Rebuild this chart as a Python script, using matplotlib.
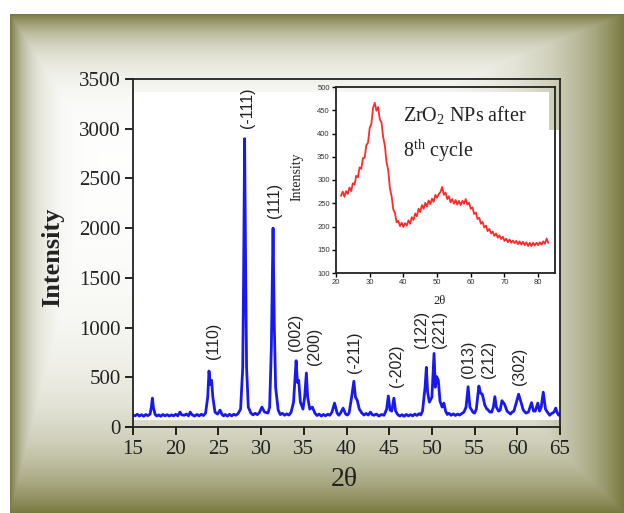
import numpy as np
import matplotlib
matplotlib.use('Agg')
import matplotlib.pyplot as plt

plt.rcParams['mathtext.fontset'] = 'custom'
plt.rcParams['mathtext.rm'] = 'Liberation Serif'

# ---------------- data ----------------
two_theta = [15.0, 15.25, 15.5, 15.75, 16.0, 16.25, 16.5, 16.75, 17.0, 17.15, 17.27, 17.4, 17.6,
             17.8, 18.0, 18.25, 18.5, 18.75, 19.0, 19.25, 19.5, 19.75,
             20.0, 20.25, 20.5, 20.7, 21.0, 21.25, 21.5, 21.7, 21.9, 22.2, 22.5, 22.75, 23.0,
             23.25, 23.5, 23.75, 23.9, 24.05,
             24.2, 24.35, 24.6, 24.9, 25.2, 25.4, 25.6, 25.8, 26.05, 26.3, 26.55, 26.8, 27.05,
             27.3, 27.6, 27.85, 27.95,
             28.07, 28.2, 28.3, 28.5, 28.8, 29.05, 29.3, 29.55, 29.8, 30.1, 30.4, 30.8, 31.0,
             31.2, 31.4,
             31.55, 31.7, 32.0, 32.25, 32.5, 32.75, 33.0, 33.25, 33.5, 33.8, 34.1, 34.25, 34.4,
             34.6, 34.9, 35.1,
             35.3, 35.45, 35.7, 36.0, 36.3, 36.55, 36.8, 37.05, 37.3, 37.55, 37.8, 38.05, 38.3,
             38.6, 38.9, 39.1, 39.3, 39.6,
             39.9, 40.1, 40.3, 40.6, 40.86, 41.05, 41.25, 41.5, 41.8, 42.05, 42.3, 42.55, 42.8,
             43.0, 43.2, 43.5, 43.8, 44.1, 44.4,
             44.7, 44.9, 45.1, 45.3, 45.55, 45.75, 46.0, 46.25, 46.5, 46.75, 47.0, 47.25, 47.5,
             47.75, 48.0, 48.25, 48.5, 48.7, 48.9,
             49.2, 49.35, 49.5, 49.7, 50.0, 50.25, 50.4, 50.56, 50.75, 50.95, 51.2, 51.4, 51.6,
             51.8, 52.0, 52.25, 52.5, 52.75, 53.0, 53.25, 53.5, 53.75, 54.0, 54.24, 54.45, 54.8,
             55.0, 55.2, 55.5, 55.7, 55.9, 56.2,
             56.4, 56.6, 56.8, 57.0, 57.2, 57.37, 57.55, 57.8, 58.0, 58.2, 58.5, 58.8, 59.0,
             59.2, 59.4, 59.6, 59.9, 60.15,
             60.4, 60.7, 61.0, 61.3, 61.67, 61.9, 62.1, 62.4, 62.6, 62.8, 63.04, 63.3, 63.6,
             63.8, 64.0, 64.3, 64.5, 64.7, 64.85, 65.0]
intensity = [120, 112, 128, 110, 124, 108, 126, 114, 130, 200, 290, 190, 125,
             110, 122, 108, 126, 112, 124, 110, 122, 112,
             128, 112, 150, 122, 118, 130, 112, 150, 125, 110, 126, 112, 128,
             115, 140, 300, 563, 430,
             470, 300, 150, 130, 170, 130, 112, 126, 110, 128, 112, 128, 118,
             135, 180, 600, 1500,
             2900, 1500, 600, 200, 140, 122, 138, 124, 145, 200, 150, 140, 200,
             800, 2000,
             1000, 400, 170, 125, 138, 118, 132, 120, 145, 250, 667, 450, 470,
             250, 180, 300,
             543, 300, 180, 200, 140, 115, 130, 110, 126, 112, 128, 118, 150,
             240, 140, 118, 140, 190,
             130, 120, 140, 300, 460, 300, 270, 180, 140, 120, 136, 120, 150,
             125, 118, 130, 110, 126, 118,
             180, 312, 170, 160, 290, 160, 125, 110, 124, 108, 126, 112, 124,
             112, 130, 116, 134, 122, 160,
             400, 600, 350, 250, 300, 740, 400, 506, 470, 260, 200, 240, 160,
             126, 138, 118, 132, 116, 130, 120, 136, 150, 200, 405, 200, 150,
             140, 180, 412, 340, 330, 220,
             185, 170, 150, 150, 200, 305, 200, 160, 170, 265, 230, 160, 145,
             130, 150, 160, 250, 330,
             260, 170, 140, 150, 245, 160, 160, 240, 160, 200, 350, 180, 140,
             118, 135, 150, 190, 140, 118, 135]

peak_labels = ['(110)', '(-111)', '(111)', '(002)', '(200)', '(-211)', '(-202)',
               '(122)', '(221)', '(013)', '(212)', '(302)']
label_x = [24.47, 28.35, 31.55, 34.05, 36.24, 40.94, 45.83, 48.77, 50.92, 54.24, 56.59, 60.3]
label_y = [867, 3214, 2275, 951, 815, 750, 616, 986, 986, 684, 684, 614]

inset_theta = [21.5, 22.0, 22.5, 23.0, 23.5, 24.0, 24.5, 25.0, 25.5, 26.0, 26.5, 27.0, 27.5,
               28.0, 28.5, 29.0, 29.5, 30.0, 30.5, 31.0, 31.5, 32.0, 32.5, 33.0, 33.5, 34.0,
               34.5, 35.0, 35.5, 36.0, 36.5, 37.0, 37.5, 38.0, 38.5, 39.0, 39.5, 40.0, 40.5,
               41.0, 41.5, 42.0, 42.5, 43.0, 43.5, 44.0, 44.5, 45.0, 45.5, 46.0, 46.5, 47.0,
               47.5, 48.0, 48.5, 49.0, 49.5, 50.0, 50.5, 51.0, 51.5, 52.0, 52.5, 53.0, 53.5,
               54.0, 54.5, 55.0, 55.5, 56.0, 56.5, 57.0, 57.5, 58.0, 58.5, 59.0, 59.5, 60.0,
               60.5, 61.0, 61.5, 62.0, 62.5, 63.0, 63.5, 64.0, 64.5, 65.0, 65.5, 66.0, 66.5,
               67.0, 67.5, 68.0, 68.5, 69.0, 69.5, 70.0, 70.5, 71.0, 71.5, 72.0, 72.5, 73.0,
               73.5, 74.0, 74.5, 75.0, 75.5, 76.0, 76.5, 77.0, 77.5, 78.0, 78.5, 79.0, 79.5,
               80.0, 80.5, 81.0, 81.5, 82.0, 82.5, 83.0]
inset_intensity = [266, 275, 264, 276, 270, 284, 276, 293, 290, 309, 306, 327, 324,
                   347, 348, 375, 380, 412, 421, 455, 466, 449, 457, 430, 424, 392,
                   374, 338, 321, 282, 265, 237, 229, 209, 212, 201, 208, 199, 207,
                   202, 213, 206, 220, 214, 228, 222, 238, 231, 246, 238, 251, 243,
                   256, 248, 260, 253, 268, 262, 270, 274, 285, 268, 273, 259, 265,
                   252, 259, 249, 257, 247, 255, 246, 255, 249, 259, 247, 251, 238,
                   241, 227, 230, 216, 219, 206, 210, 198, 202, 190, 195, 185, 189,
                   180, 185, 176, 181, 173, 178, 169, 174, 166, 172, 165, 170, 164,
                   169, 162, 168, 161, 167, 160, 166, 158, 165, 158, 165, 159, 165,
                   160, 166, 161, 168, 163, 174, 165]

main_xticks = [15, 20, 25, 30, 35, 40, 45, 50, 55, 60, 65]
main_yticks = [0, 500, 1000, 1500, 2000, 2500, 3000, 3500]
inset_xticks = [20, 30, 40, 50, 60, 70, 80]
inset_yticks = [100, 150, 200, 250, 300, 350, 400, 450, 500]

# ---------------- figure & bevel background ----------------
W, H = 624, 513
fig = plt.figure(figsize=(W / 100, H / 100), dpi=100)

yy, xx = np.mgrid[0:H, 0:W] + 0.5
dl = xx - 10
dt = yy - 14
dr = W - xx
db = H - yy
k = np.maximum.reduce([np.exp(-np.clip(dl, 0, None) / 18.0),
                       np.exp(-np.clip(dt, 0, None) / 28.0),
                       np.exp(-np.clip(dr, 0, None) / 70.0),
                       np.exp(-np.clip(db, 0, None) / 70.0)])
dark = np.array([120, 120, 62]) / 255.0
img = 1 - (1 - dark) * k[..., None]
img[(xx < 10) | (yy < 14)] = 1.0
panel = (xx >= 133) & (xx <= 560) & (yy >= 92) & (yy <= 420)
notch = (xx >= 549) & (yy < 130)
img[panel & ~notch] = 1.0

bg = fig.add_axes([0, 0, 1, 1], zorder=-1)
bg.imshow(img, aspect='auto', extent=(0, W, H, 0), interpolation='bilinear')
bg.set_xlim(0, W)
bg.set_ylim(H, 0)
bg.axis('off')

serif = 'Liberation Serif'
sans = 'Liberation Sans'

# ---------------- main axes ----------------
ax = fig.add_axes([133 / W, (H - 427) / H, 427 / W, 348 / H])
ax.set_facecolor('none')
ax.plot(two_theta, intensity, color='#1818f0', lw=2.0, solid_joinstyle='round')
ax.set_xlim(15, 65)
ax.set_ylim(0, 3500)
ax.set_xticks(main_xticks)
ax.set_yticks(main_yticks)
ax.tick_params(direction='out', length=6, width=1.2, labelsize=15, pad=3, colors='black')
for lab in ax.get_xticklabels() + ax.get_yticklabels():
    lab.set_family(serif)
    lab.set_color('#222222')
for sp in ax.spines.values():
    sp.set_linewidth(1.3)
    sp.set_color('#222222')

for lab, lx, ly in zip(peak_labels, label_x, label_y):
    ax.text(lx, ly, lab, rotation=90, ha='center', va='center', family=sans,
            fontsize=11.5, color='#222222')

fig.text(53 / W, 1 - 257 / H, 'Intensity', rotation=90, ha='center', va='center',
         family=serif, fontsize=19, fontweight='bold', color='#222222')
fig.text(344 / W, 1 - 480 / H, '2θ', ha='center', va='center', family=serif,
         fontsize=20, color='#222222')

# ---------------- inset ----------------
axi = fig.add_axes([336 / W, 1 - 273 / H, 219 / W, 186 / H])
axi.set_facecolor('none')
axi.plot(inset_theta, inset_intensity, color='#ff2a2a', lw=1.3)
axi.set_xlim(20, 85)
axi.set_ylim(100, 500)
axi.set_xticks(inset_xticks)
axi.set_yticks(inset_yticks)
axi.tick_params(direction='out', length=3, width=1.0, labelsize=5.5, pad=1.5)
for lab in axi.get_xticklabels() + axi.get_yticklabels():
    lab.set_family(sans)
    lab.set_color('#333333')
for sp in axi.spines.values():
    sp.set_linewidth(1.3)
    sp.set_color('#222222')

fig.text(297 / W, 1 - 177 / H, 'Intensity', rotation=90, ha='center', va='center',
         family=serif, fontsize=10, color='#222222')
fig.text(440 / W, 1 - 301 / H, '2θ', ha='center', va='center', family=serif,
         fontsize=9, color='#222222')
fig.text(403 / W, 1 - 122 / H, r'ZrO$_{\mathregular{2}}$ NPs after', ha='left',
         va='baseline', family=serif, fontsize=14.5, color='#222222')
fig.text(403 / W, 1 - 157 / H, r'8$^{\mathregular{th}}$ cycle', ha='left',
         va='baseline', family=serif, fontsize=14.5, color='#222222')

fig.savefig('out.png', dpi=100)
